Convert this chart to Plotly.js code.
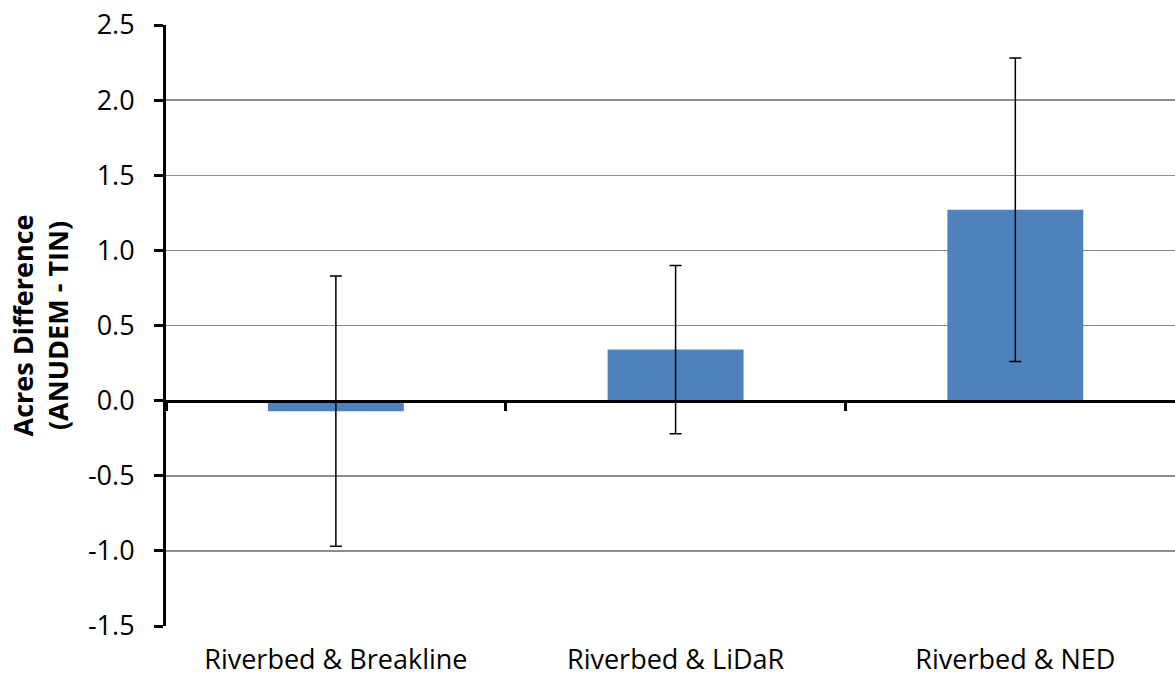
<!DOCTYPE html>
<html>
<head>
<meta charset="utf-8">
<script src="https://cdn.plot.ly/plotly-3.0.1.min.js"></script>
<style>html,body{margin:0;padding:0;background:#fff;}#chart{width:1175px;height:678px;}</style>
</head>
<body>
<div id="chart"></div>
<script>
const categories = ["Riverbed & Breakline", "Riverbed & LiDaR", "Riverbed & NED"];
const meanDiff = [-0.07, 0.34, 1.27];
const errorHalf = [0.90, 0.56, 1.01];
const yTickVals = [-1.5, -1.0, -0.5, 0.0, 0.5, 1.0, 1.5, 2.0, 2.5];
const boundaryTicks = [0.5, 1.5];

const fontFam = "'Open Sans', 'Liberation Sans', sans-serif";

const bars = {
  type: 'bar',
  x: categories,
  y: meanDiff,
  width: 0.4,
  marker: {color: '#4F81BD', line: {width: 0}},
  error_y: {type: 'data', array: errorHalf, visible: true, color: '#000000', thickness: 1.5, width: 6},
  hoverinfo: 'x+y'
};

// invisible helper trace on the overlay axis so the zero-crossing axis is drawn
const helper = {
  type: 'scatter', x: [0], y: [0], xaxis: 'x2', yaxis: 'y',
  mode: 'markers', marker: {opacity: 0}, hoverinfo: 'skip', showlegend: false
};

const yMin = yTickVals[0], yMax = yTickVals[yTickVals.length - 1];

const layout = {
  width: 1175, height: 678,
  margin: {l: 166, r: 0, t: 25, b: 52},
  paper_bgcolor: '#ffffff', plot_bgcolor: '#ffffff',
  showlegend: false,
  font: {family: fontFam, size: 27, color: '#000'},
  xaxis: {
    type: 'category',
    range: [-0.5, 2.47],
    showline: false, showgrid: false, zeroline: false,
    ticks: 'outside', ticklen: 10, tickcolor: 'rgba(0,0,0,0)',
    tickfont: {family: fontFam, size: 27, color: '#000'},
    fixedrange: true
  },
  xaxis2: {
    overlaying: 'x', anchor: 'free', side: 'bottom',
    position: (0 - yMin) / (yMax - yMin),
    range: [-0.5, 2.47],
    showline: true, linecolor: '#000', linewidth: 3,
    showgrid: false, zeroline: false,
    tickmode: 'array', tickvals: [-0.5].concat(boundaryTicks), ticktext: ['', '', ''],
    ticks: 'outside', ticklen: 8, tickwidth: 3, tickcolor: '#000',
    showticklabels: false, fixedrange: true
  },
  yaxis: {
    range: [yMin, yMax],
    tickmode: 'array', tickvals: yTickVals,
    ticktext: yTickVals.map(v => v.toFixed(1)),
    showgrid: true, gridcolor: '#8c8c8c', gridwidth: 1.5,
    zeroline: false,
    showline: true, linecolor: '#000', linewidth: 3,
    ticks: 'outside', ticklen: 9, tickwidth: 3, tickcolor: '#000',
    ticklabelstandoff: 14,
    tickfont: {family: fontFam, size: 27, color: '#000'},
    title: {
      text: '<b>Acres Difference</b><br><b>(ANUDEM - TIN)</b>',
      font: {family: fontFam, size: 27, color: '#000'},
      standoff: 12
    },
    automargin: false,
    fixedrange: true
  }
};

Plotly.newPlot('chart', [bars, helper], layout, {displayModeBar: false, staticPlot: true});
</script>
</body>
</html>
